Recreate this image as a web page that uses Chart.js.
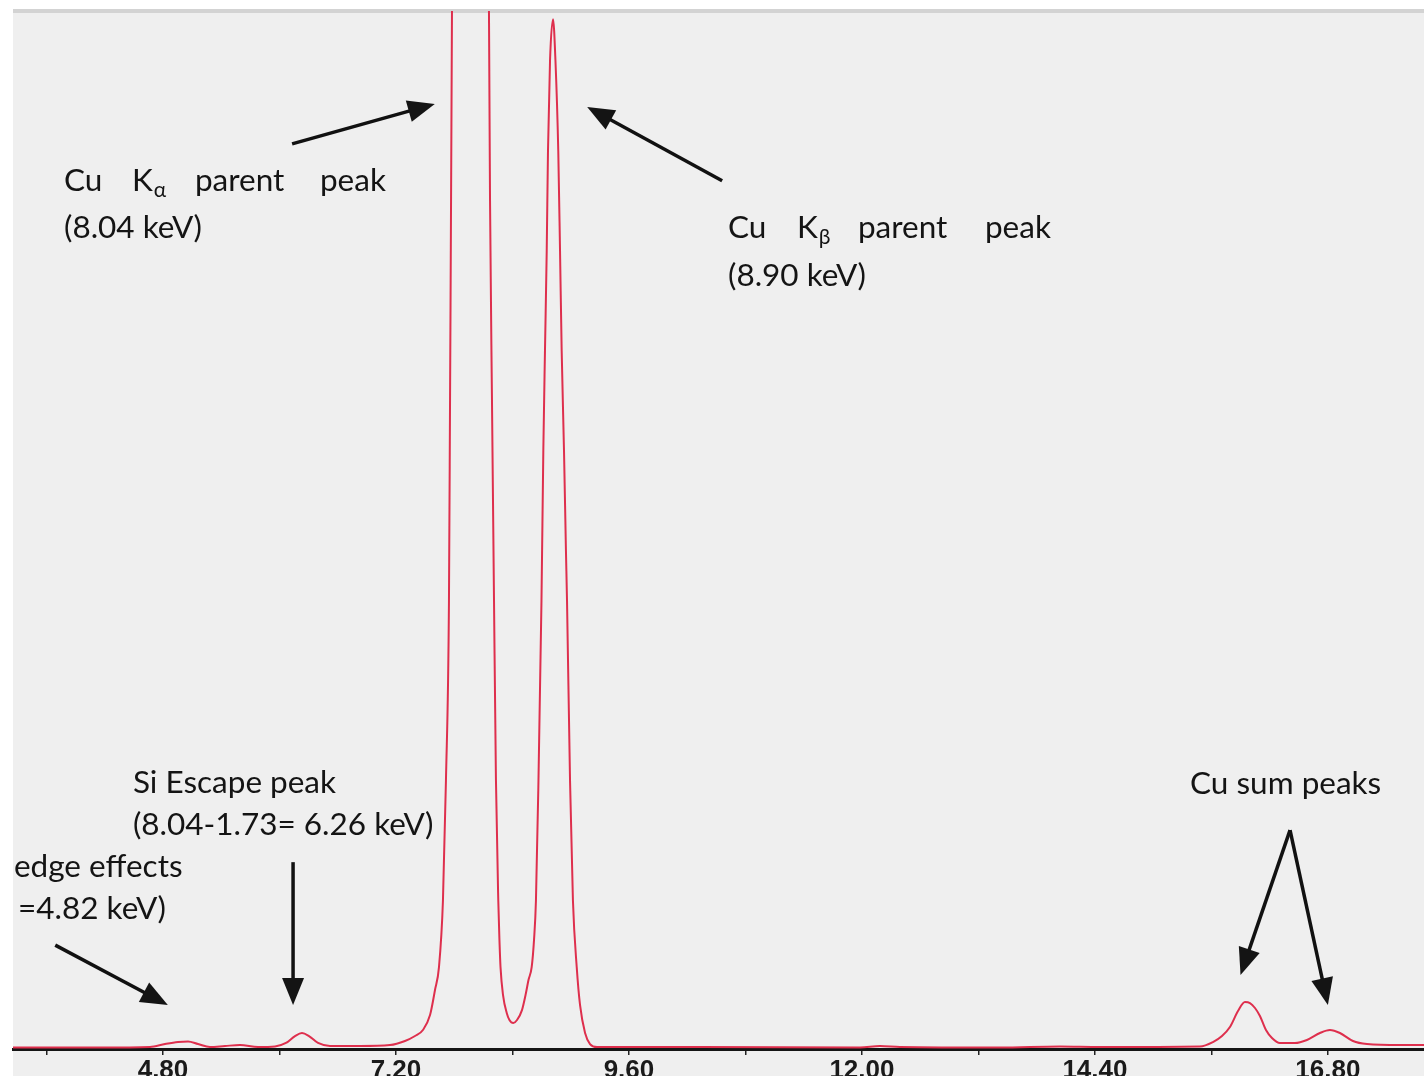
<!DOCTYPE html>
<html>
<head>
<meta charset="utf-8">
<title>Cu EDS spectrum</title>
<script src="https://cdn.jsdelivr.net/npm/chart.js@4"></script>
<style>
  html, body { margin: 0; padding: 0; background: #fff; }
  canvas { display: block; }
</style>
</head>
<body>
<canvas id="spectrum" width="1424" height="1076"></canvas>
<script>
// trace: energy in keV, counts in window units (1000 = top edge)
const energy = [3.255, 4.151, 4.666, 4.821, 4.955, 5.058, 5.161, 5.284, 5.439, 5.593, 5.779, 5.954,
  6.067, 6.160, 6.232, 6.304, 6.397, 6.520, 6.830, 7.138, 7.293, 7.396, 7.478, 7.551, 7.602, 7.643,
  7.684, 7.715, 7.746, 7.757, 7.777, 7.808, 7.880, 7.968, 8.055, 8.127,
  8.158, 8.169, 8.189, 8.210, 8.230, 8.254, 8.266, 8.277, 8.303, 8.341, 8.369, 8.409, 8.447,
  8.498, 8.539, 8.565, 8.598, 8.622, 8.642, 8.668, 8.699, 8.718, 8.735, 8.753, 8.766, 8.787,
  8.818, 8.843, 8.872, 8.890, 8.907, 8.931, 8.951, 8.962, 8.993, 9.023, 9.062, 9.096, 9.148,
  9.199, 9.271, 10.332, 11.980, 12.186, 12.392, 13.422, 14.040, 14.452, 15.482,
  15.616, 15.709, 15.791, 15.874, 15.946, 15.997, 16.049, 16.100, 16.162, 16.224, 16.306, 16.461,
  16.584, 16.718, 16.821, 16.924, 17.058, 17.202, 17.542, 17.790];
const counts = [1.5, 1.5, 2, 4.8, 6.7, 7.2, 4.8, 1.9, 2.9, 3.8, 1.9, 2.4,
  5.8, 12.5, 15.4, 12.5, 5.8, 2.9, 2.9, 3.8, 7.7, 12.5, 18.3, 32.7, 56.8, 78.9,
  143, 259, 432, 625, 1000, 1800, 5300, 6900, 5300, 1800,
  1000, 817, 625, 432, 259, 143, 104.9, 78.9, 52, 34.7, 27.9, 25, 27.9,
  37.5, 53.9, 66.4, 78.9, 104.9, 143, 259, 432, 576.5, 672.8, 769, 865, 952,
  992, 952, 865, 769, 672.8, 576.5, 480.3, 432, 259, 143, 78.9, 42.4, 15.4,
  4.8, 1.9, 1.9, 1.4, 2.9, 1.9, 1.4, 2.4, 1.9, 2.4,
  6.7, 12.5, 21.2, 36.6, 45.2, 44.3, 39.5, 31.8, 18.3, 10.6, 5.8, 5.8,
  8.7, 15.4, 18.3, 15.4, 7.7, 4.8, 3.8, 3.8];

const xTicks = [3.6, 4.8, 6.0, 7.2, 8.4, 9.6, 10.8, 12.0, 13.2, 14.4, 15.6, 16.8];
const xLabels = ['4.80', '7.20', '9.60', '12.00', '14.40', '16.80'];

// annotation text: anchor in data units, words with pixel offsets along the line
const noteAnchorsK = [3.78, 10.62, 4.49, 3.265, 15.38];
const noteAnchorsC = [826.8, 781.5, 246.4, 165.5, 245.4];
const noteLineHeights = [47, 48, 42, 42, 42];
const noteLines = [
  [[['Cu', 0], ['K', 68, 'α'], ['parent', 131], ['peak', 256]], [['(8.04 keV)', 0]]],
  [[['Cu', 0], ['K', 69, 'β'], ['parent', 130], ['peak', 257]], [['(8.90 keV)', 0]]],
  [[['Si Escape peak', 0]], [['(8.04-1.73= 6.26 keV)', 0]]],
  [[['edge effects', 0]], [['=4.82 keV)', 4]]],
  [[['Cu sum peaks', 0]]]
];

// arrows: tail and tip in data units
const arrowTailK = [6.13, 10.56, 3.69, 6.14, 16.41, 16.41];
const arrowTailC = [872, 836.4, 100.1, 180, 210.8, 210.8];
const arrowTipK = [7.60, 9.17, 4.85, 6.14, 15.90, 16.80];
const arrowTipC = [910.5, 907.6, 42.4, 42.4, 71.2, 42.4];

const textFont = 'Lato, "Open Sans", sans-serif';

const backdrop = {
  id: 'backdrop',
  beforeDraw(chart) {
    const { ctx, chartArea } = chart;
    ctx.save();
    ctx.fillStyle = '#ffffff';
    ctx.fillRect(0, 0, chart.width, chart.height);
    ctx.fillStyle = '#efefef';
    ctx.fillRect(chartArea.left, chartArea.top, chart.width - chartArea.left, chart.height - chartArea.top);
    ctx.fillStyle = '#d3d3d3';
    ctx.fillRect(chartArea.left, chartArea.top - 2, chart.width - chartArea.left, 4);
    ctx.restore();
  }
};

function drawArrow(ctx, x1, y1, x2, y2) {
  const a = Math.atan2(y2 - y1, x2 - x1);
  const head = 27, half = 11;
  const bx = x2 - head * Math.cos(a), by = y2 - head * Math.sin(a);
  ctx.beginPath();
  ctx.moveTo(x1, y1);
  ctx.lineTo(bx + 2 * Math.cos(a), by + 2 * Math.sin(a));
  ctx.stroke();
  ctx.beginPath();
  ctx.moveTo(x2, y2);
  ctx.lineTo(bx + half * Math.sin(a), by - half * Math.cos(a));
  ctx.lineTo(bx - half * Math.sin(a), by + half * Math.cos(a));
  ctx.closePath();
  ctx.fill();
}

const notes = {
  id: 'notes',
  afterDraw(chart) {
    const { ctx } = chart;
    const xs = chart.scales.x, ys = chart.scales.y;
    ctx.save();
    ctx.fillStyle = '#141414';
    ctx.strokeStyle = '#111111';
    ctx.lineWidth = 3.5;
    ctx.textBaseline = 'alphabetic';
    ctx.textAlign = 'left';
    noteLines.forEach((lines, i) => {
      const x0 = xs.getPixelForValue(noteAnchorsK[i]);
      const y0 = ys.getPixelForValue(noteAnchorsC[i]);
      lines.forEach((words, j) => {
        const y = y0 + j * noteLineHeights[i];
        words.forEach(([t, dx, sub]) => {
          ctx.font = '31.5px ' + textFont;
          ctx.fillText(t, x0 + dx, y);
          if (sub) {
            const w = ctx.measureText(t).width;
            ctx.font = '21px ' + textFont;
            ctx.fillText(sub, x0 + dx + w + 1, y + 6);
          }
        });
      });
    });
    arrowTailK.forEach((k, i) => {
      drawArrow(ctx,
        xs.getPixelForValue(k), ys.getPixelForValue(arrowTailC[i]),
        xs.getPixelForValue(arrowTipK[i]), ys.getPixelForValue(arrowTipC[i]));
    });
    ctx.restore();
  }
};

new Chart(document.getElementById('spectrum'), {
  type: 'line',
  data: {
    datasets: [{
      data: energy.map((e, i) => ({ x: e, y: counts[i] })),
      borderColor: '#de2f4d',
      borderWidth: 2,
      pointRadius: 0,
      cubicInterpolationMode: 'monotone',
      fill: false
    }]
  },
  options: {
    responsive: false,
    animation: false,
    events: [],
    layout: { padding: { left: 13, top: 11, right: 0, bottom: 0 } },
    plugins: { legend: { display: false }, tooltip: { enabled: false } },
    scales: {
      x: {
        type: 'linear',
        min: 3.255,
        max: 17.79,
        afterBuildTicks: scale => { scale.ticks = xTicks.map(v => ({ value: v })); },
        afterFit: scale => { scale.height = 27; },
        border: { display: true, color: '#151515', width: 3 },
        grid: { drawOnChartArea: false, drawTicks: true, tickLength: 6, color: '#222', lineWidth: 1.5 },
        ticks: {
          autoSkip: false,
          maxRotation: 0,
          padding: 0,
          color: '#1a1a1a',
          font: { family: '"Liberation Sans Narrow", "Liberation Sans", Arial, sans-serif', size: 26, weight: 'bold' },
          callback: v => {
            const s = Number(v).toFixed(2);
            return xLabels.includes(s) ? s : '';
          }
        }
      },
      y: {
        display: false,
        min: 0,
        max: 1000
      }
    }
  },
  plugins: [backdrop, notes]
});
</script>
</body>
</html>
